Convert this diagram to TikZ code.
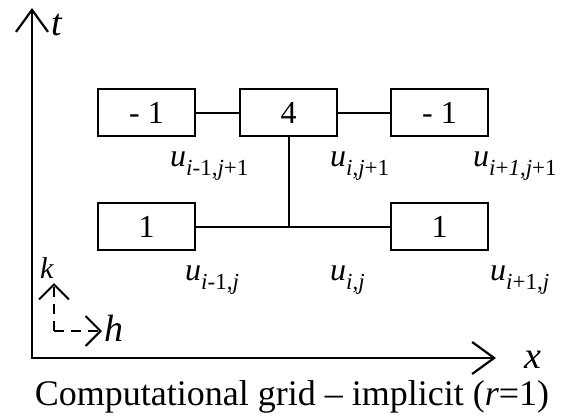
\documentclass[tikz,border=0pt]{standalone}
\usepackage{fontspec}
\setmainfont{Liberation Serif}
\usetikzlibrary{arrows.meta,positioning}
\newcommand{\gridval}[2]{\textit{#1}\raisebox{-0.3em}{\fontsize{23}{23}\selectfont#2}}

\begin{document}
\begin{tikzpicture}[x=1pt,y=-1pt,node distance=45pt,
  >={Straight Barb[length=22pt,width=32pt]},
  axis/.style={line width=2.2pt,<->},
  cell/.style={draw,line width=2.2pt,outer sep=0pt,inner sep=0pt,minimum width=97pt,minimum height=47pt,font=\fontsize{32}{32}\selectfont},
  lbl/.style={anchor=base west,inner sep=0pt,font=\fontsize{32}{32}\selectfont},
  axlbl/.style={anchor=base west,inner sep=0pt,font=\fontsize{38}{38}\selectfont\itshape},
  link/.style={line width=2pt},
  dashpath/.style={line width=2pt,dash pattern=on 10pt off 7pt,-{Straight Barb[length=15pt,width=30pt]}}]
\useasboundingbox (0,0) rectangle (567,415);
% axes
\coordinate (o) at (32,358);
\coordinate (tend) at (32,8);
\coordinate (xend) at (496,358);
\draw[axis] (tend) -- (o) -- (xend);
\node[axlbl] (tl) at (51,35) {t};
\node[axlbl] (xl) at (524,368) {x};
% stencil
\node[cell] (m1) at (146.5,112.5) {- 1};
\node[cell,right=of m1] (c4) {4};
\node[cell,right=54pt of c4] (p1) {- 1};
\node[cell,below=67pt of m1] (b1) {1};
\node[cell,below=67pt of p1] (b2) {1};
\draw[link] (m1) -- (c4);
\draw[link] (c4) -- (p1);
\draw[link] (b1) -- (b2);
\draw[link] (c4.south) -- (c4.south |- b1.east);
% grid values
\node[lbl] (um1) at (170,166) {\gridval{u}{\textit{i}-1,\textit{j}+1}};
\node[lbl] (uc1) at (330,166) {\gridval{u}{\textit{i},\textit{j}+1}};
\node[lbl] (up1) at (473,166) {\gridval{u}{\textit{i}+\textit{1},\textit{j}+1}};
\node[lbl] (um0) at (185,280) {\gridval{u}{\textit{i}-1,\textit{j}}};
\node[lbl] (uc0) at (330,280) {\gridval{u}{\textit{i},\textit{j}}};
\node[lbl] (up0) at (490,280) {\gridval{u}{\textit{i}+1,\textit{j}}};
% step sizes
\coordinate (hk) at (54,331);
\coordinate (kt) at (54,283);
\coordinate (ht) at (102,331);
\draw[dashpath] (hk) -- (kt);
\draw[dashpath] (hk) -- (ht);
\node[anchor=base west,inner sep=0pt,font=\fontsize{30}{30}\selectfont\itshape] (kl) at (40,278) {k};
\node[axlbl] (hl) at (104,341) {h};
\node[anchor=base,inner sep=0pt,font=\fontsize{36}{36}\selectfont] (cap) at (292,405) {Computational grid – implicit (\textit{r}=1)};
\end{tikzpicture}
\end{document}
